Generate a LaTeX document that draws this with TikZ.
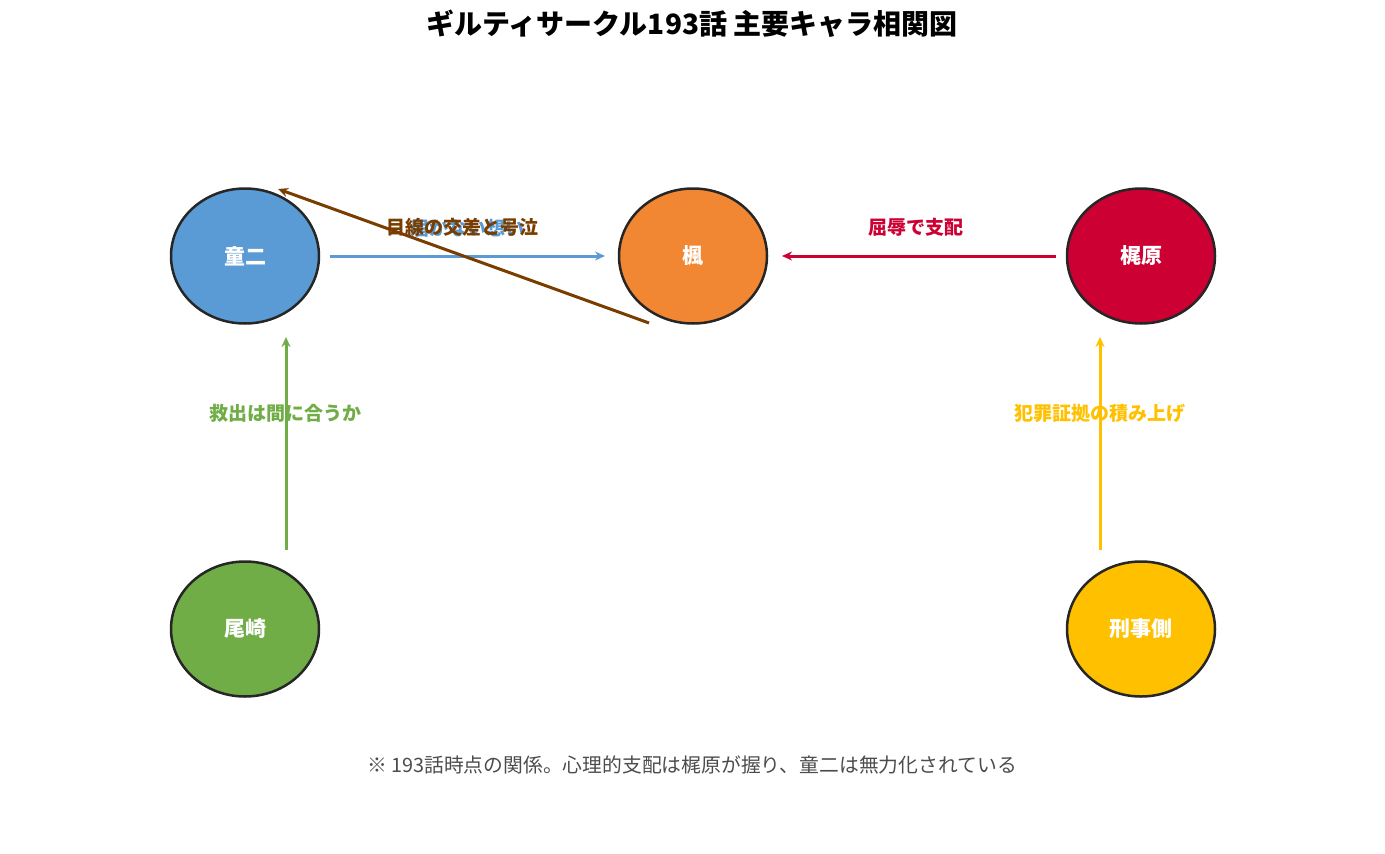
\documentclass[tikz,border=0pt]{standalone}
\usepackage{fontspec}
\setmainfont{Noto Sans CJK JP}
\begin{document}
\begin{tikzpicture}[x=1pt,y=-1pt,
 person/.style={ellipse,draw=black!85,line width=2.5pt,minimum width=148pt,minimum height=135pt,text=white,font=\bfseries\fontsize{21}{24}\selectfont},
 rel/.style={line width=3pt,-{Stealth[length=10pt,width=9pt]}},
 lab/.style={font=\bfseries\fontsize{19}{22}\selectfont}]
\useasboundingbox (0,0) rectangle (1385,854);
\usetikzlibrary{shapes.geometric,arrows.meta}
\node[font=\bfseries\fontsize{28}{32}\selectfont] (title) at (692,24) {ギルティサークル193話 主要キャラ相関図};
\node[person,fill={rgb,255:red,91;green,155;blue,213}] (doji) at (245,256) {童二};
\node[person,fill={rgb,255:red,242;green,135;blue,51}] (kaede) at (693,256) {楓};
\node[person,fill={rgb,255:red,204;green,0;blue,51}] (kaji) at (1141,256) {梶原};
\node[person,fill={rgb,255:red,112;green,173;blue,71}] (ozaki) at (245,629) {尾崎};
\node[person,fill={rgb,255:red,255;green,192;blue,0}] (keiji) at (1141,629) {刑事側};
\coordinate (b1) at (330,256); \coordinate (b2) at (605,256);
\coordinate (r1) at (1056,256); \coordinate (r2) at (782,256);
\coordinate (g1) at (286,550); \coordinate (g2) at (286,337);
\coordinate (y1) at (1100,550); \coordinate (y2) at (1100,337);
\coordinate (k1) at (649,323); \coordinate (k2) at (278,189);
\draw[rel,draw={rgb,255:red,91;green,155;blue,213}] (b1) -- (b2);
\node[lab,text={rgb,255:red,91;green,155;blue,213}] (lb) at (467,228) {届かない想い};
\draw[rel,draw={rgb,255:red,204;green,0;blue,51}] (r1) -- (r2);
\node[lab,text={rgb,255:red,204;green,0;blue,51}] (lr) at (916,227) {屈辱で支配};
\draw[rel,draw={rgb,255:red,112;green,173;blue,71}] (g1) -- (g2);
\node[lab,text={rgb,255:red,112;green,173;blue,71}] (lg) at (285,413) {救出は間に合うか};
\draw[rel,draw={rgb,255:red,255;green,192;blue,0}] (y1) -- (y2);
\node[lab,text={rgb,255:red,255;green,192;blue,0}] (ly) at (1100,413) {犯罪証拠の積み上げ};
\draw[rel,draw={rgb,255:red,122;green,61;blue,0}] (k1) -- (k2);
\node[lab,text={rgb,255:red,122;green,61;blue,0}] (lk) at (462,227) {目線の交差と号泣};
\node[text=black!70,font=\fontsize{19.8}{23}\selectfont] (note) at (692,765) {※ 193話時点の関係。心理的支配は梶原が握り、童二は無力化されている};
\end{tikzpicture}
\end{document}
